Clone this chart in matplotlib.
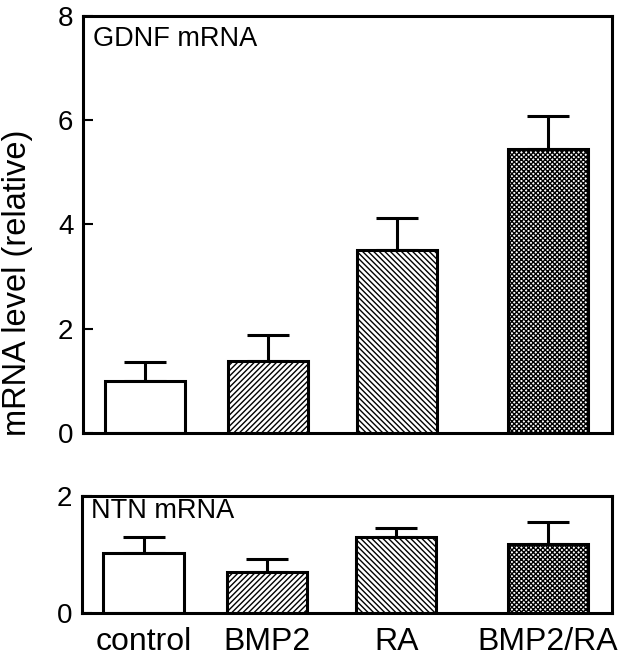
import numpy as np
import matplotlib
matplotlib.use('Agg')
import matplotlib.pyplot as plt

plt.rcParams['font.family'] = ['Liberation Sans', 'DejaVu Sans']
plt.rcParams['hatch.linewidth'] = 1.0

groups = ['control', 'BMP2', 'RA', 'BMP2/RA']
xpos = [0, 1.0, 2.05, 3.28]
hatches = ['', '//////', '\\\\\\\\\\\\', 'xxxxxxx']

gdnf_mean = [1.0, 1.38, 3.5, 5.44]
gdnf_err = [0.36, 0.5, 0.62, 0.64]
ntn_mean = [1.02, 0.69, 1.29, 1.17]
ntn_err = [0.28, 0.22, 0.15, 0.37]

fig = plt.figure(figsize=(6.25, 6.66), dpi=100)
ax1 = fig.add_axes([0.133, 0.350, 0.846, 0.626])
ax2 = fig.add_axes([0.131, 0.080, 0.848, 0.176])


def draw(ax, means, errs, ymax, label):
    for x, m, e, h in zip(xpos, means, errs, hatches):
        ax.bar(x, m, width=0.65, color='white', edgecolor='black',
               linewidth=2.2, hatch=h, zorder=2)
        ax.errorbar(x, m, yerr=[[0], [e]], fmt='none', ecolor='black',
                    elinewidth=2.2, capsize=15, capthick=2.2, zorder=1)
    ax.set_xlim(-0.5, 3.8)
    ax.set_ylim(0, ymax)
    for s in ax.spines.values():
        s.set_linewidth(2.2)
    ax.tick_params(axis='y', direction='in', length=7, width=1.5,
                   labelsize=20, pad=7)
    ax.text(0.018, 0.975, label, transform=ax.transAxes, fontsize=19.5,
            va='top', ha='left')


draw(ax1, gdnf_mean, gdnf_err, 8, 'GDNF mRNA')
ax1.set_yticks([0, 2, 4, 6, 8])
ax1.set_xticks([])
ax1.set_ylabel('mRNA level (relative)', fontsize=23.5)
ax1.yaxis.set_label_coords(-0.095, 0.36)

draw(ax2, ntn_mean, ntn_err, 2, 'NTN mRNA')
ax2.set_yticks([0, 2])
ax2.set_xticks(xpos)
ax2.set_xticklabels(groups)
ax2.tick_params(axis='x', length=0, labelsize=23, pad=10)

fig.savefig('out.png', dpi=100)
